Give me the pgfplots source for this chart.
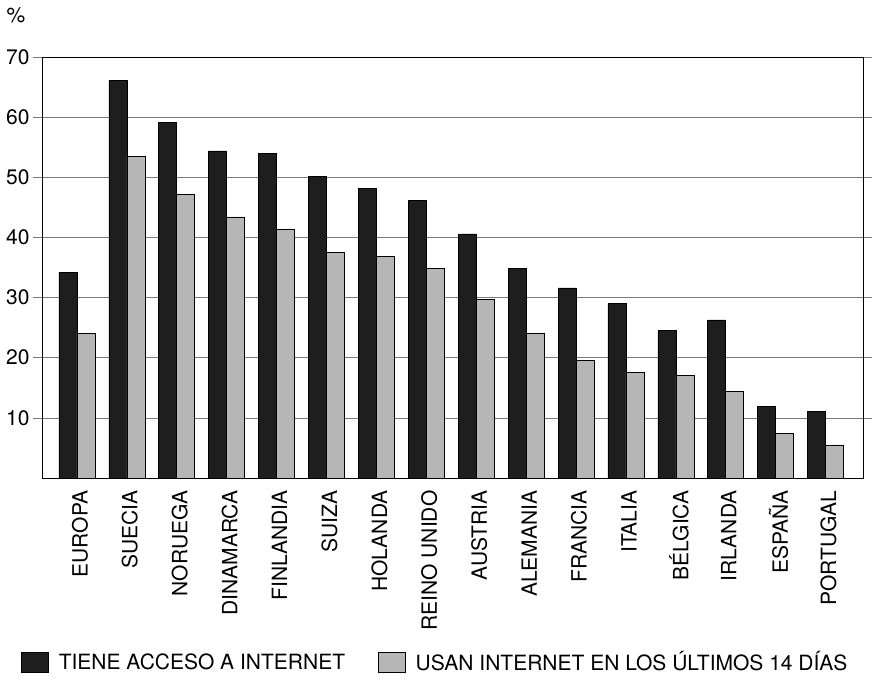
\documentclass[border=0pt]{standalone}
\usepackage{fontspec}
\setmainfont{TeX Gyre Heros}
\usepackage{pgfplots}
\usepackage{pgfplotstable}
\pgfplotsset{compat=1.18}

\definecolor{barblack}{HTML}{1E1E1E}
\definecolor{bargray}{HTML}{B6B6B6}
\definecolor{gridgray}{HTML}{7A7A7A}

% % de usuarios por pais
\pgfplotstableread{
x acceso usan
0  34.2 24.0
1  66.1 53.5
2  59.1 47.2
3  54.4 43.4
4  54.0 41.4
5  50.2 37.5
6  48.2 36.8
7  46.2 34.9
8  40.6 29.7
9  34.8 24.0
10 31.6 19.6
11 29.0 17.6
12 24.5 17.0
13 26.3 14.4
14 11.9 7.4
15 11.1 5.5
}\datos

\begin{document}
\begin{tikzpicture}
\useasboundingbox (-42pt,-206pt) rectangle (834pt,478pt);
\begin{axis}[
    at={(0pt,0pt)}, anchor=south west,
    scale only axis,
    width=821pt, height=421pt,
    ybar=0pt, bar width=0.36,
    xmin=-0.7, xmax=15.75,
    ymin=0, ymax=70,
    xtick=data,
    xticklabels={EUROPA,SUECIA,NORUEGA,DINAMARCA,FINLANDIA,SUIZA,HOLANDA,REINO UNIDO,AUSTRIA,ALEMANIA,FRANCIA,ITALIA,BÉLGICA,IRLANDA,ESPAÑA,PORTUGAL},
    x tick label style={rotate=90, anchor=east, yshift=-3pt},
    xtick style={draw=none},
    ytick={10,20,...,70},
    tick align=outside,
    major tick length=9pt,
    ytick style={gridgray, line width=0.6pt},
    ymajorgrids,
    grid style={gridgray, line width=0.6pt},
    axis line style={black, line width=0.8pt},
    ticklabel style={font=\fontsize{21}{25}\selectfont},
    /pgf/number format/assume math mode=true,
    legend columns=2,
    legend style={at={(-0.0256,-0.437)}, anchor=west, draw=none, fill=none,
        font=\fontsize{21}{25}\selectfont, inner sep=0pt,
        /tikz/column 1/.style={column sep=8pt},
        /tikz/column 2/.style={column sep=31pt},
        /tikz/column 3/.style={column sep=8pt}},
    legend image code/.code={\draw[#1] (0pt,-10pt) rectangle (27pt,10pt);},
    clip=false,
]
\addplot[fill=barblack, draw=black, line width=0.6pt] table[x=x, y=acceso]{\datos};
\addplot[fill=bargray, draw=black, line width=0.6pt] table[x=x, y=usan]{\datos};
\legend{TIENE ACCESO A INTERNET, USAN INTERNET EN LOS ÚLTIMOS 14 DÍAS}
\node[font=\fontsize{21}{25}\selectfont] at (axis description cs:-0.0317,1.0998) {\%};
\end{axis}
\end{tikzpicture}
\end{document}
